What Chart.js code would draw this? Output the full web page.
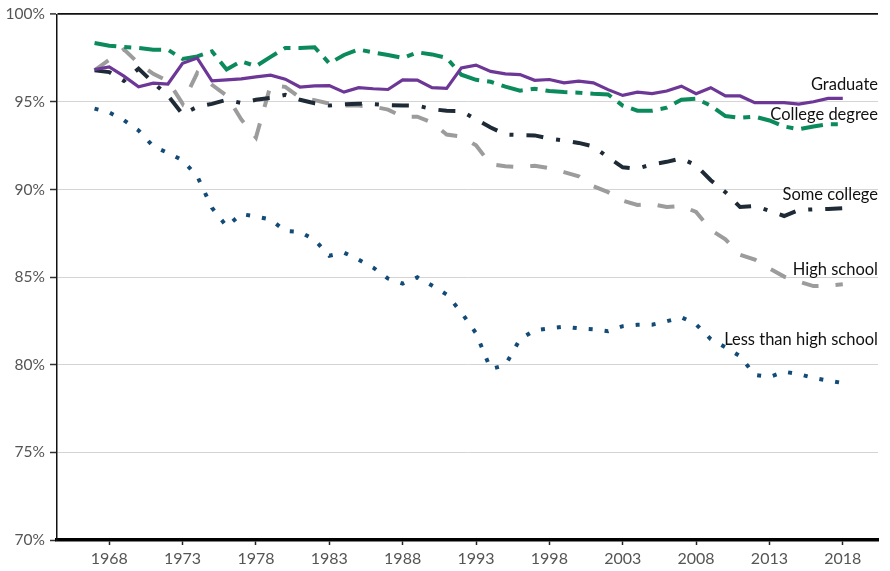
<!DOCTYPE html>
<html>
<head>
<meta charset="utf-8">
<script src="https://cdn.jsdelivr.net/npm/chart.js@4.4.1/dist/chart.umd.min.js"></script>
<style>
  html, body { margin: 0; padding: 0; background: #ffffff; }
  #wrap { width: 890px; height: 571px; }
</style>
</head>
<body>
<div id="wrap"><canvas id="c" width="890" height="571"></canvas></div>
<script>
const years = [1967,1968,1969,1970,1971,1972,1973,1974,1975,1976,1977,1978,1979,1980,1981,1982,1983,1984,1985,1986,1987,1988,1989,1990,1991,1992,1993,1994,1995,1996,1997,1998,1999,2000,2001,2002,2003,2004,2005,2006,2007,2008,2009,2010,2011,2012,2013,2014,2015,2016,2017,2018];

const graduate = [96.85,97.0,96.47,95.86,96.07,96.02,97.2,97.5,96.2,96.26,96.32,96.43,96.53,96.3,95.85,95.92,95.93,95.56,95.81,95.75,95.71,96.26,96.24,95.81,95.77,96.94,97.1,96.74,96.6,96.56,96.23,96.28,96.09,96.19,96.09,95.7,95.37,95.56,95.47,95.62,95.9,95.47,95.81,95.34,95.34,94.96,94.96,94.96,94.87,95.01,95.2,95.2];

const collegeDegree = [98.36,98.21,98.13,98.08,97.98,97.98,97.45,97.6,97.89,96.85,97.32,97.04,97.57,98.08,98.08,98.12,97.2,97.68,97.99,97.82,97.68,97.51,97.83,97.71,97.51,96.55,96.26,96.15,95.87,95.64,95.75,95.62,95.56,95.53,95.47,95.43,94.79,94.5,94.5,94.67,95.13,95.19,94.79,94.19,94.1,94.16,93.94,93.6,93.44,93.6,93.73,93.73];

const someCollege = [96.8,96.7,96.2,96.9,96.1,95.36,94.3,94.72,94.89,95.12,94.94,95.12,95.23,95.4,95.12,94.92,94.79,94.86,94.9,94.87,94.82,94.8,94.79,94.59,94.49,94.48,94.0,93.54,93.14,93.11,93.09,92.91,92.8,92.66,92.46,91.84,91.27,91.19,91.44,91.58,91.78,91.38,90.53,89.85,89.0,89.06,88.78,88.49,88.83,88.87,88.89,88.94];

const highSchool = [96.8,97.4,98.0,97.2,96.6,96.2,94.9,96.66,95.98,95.36,94.0,92.97,95.95,95.86,95.24,95.1,94.9,94.8,94.79,94.73,94.56,94.16,94.16,93.82,93.14,93.03,92.52,91.44,91.33,91.28,91.36,91.22,90.99,90.76,90.19,89.85,89.37,89.12,89.17,89.0,89.06,88.72,87.7,87.16,86.28,86.0,85.49,85.03,84.75,84.49,84.52,84.59];

const lessThanHighSchool = [94.62,94.4,93.96,93.37,92.46,92.09,91.67,90.76,88.96,87.9,88.6,88.46,88.29,87.64,87.58,87.13,86.22,86.4,86.0,85.54,84.92,84.63,84.99,84.52,84.01,82.99,81.8,79.76,79.98,81.46,81.97,82.08,82.17,82.08,82.02,81.91,82.2,82.28,82.29,82.48,82.71,82.31,81.46,81.0,80.49,79.42,79.3,79.6,79.47,79.25,79.1,78.96];

const seriesNames = ["Graduate","College degree","Some college","High school","Less than high school"];
const labelValues = [95.66, 93.98, 89.38, 85.13, 81.1];
const xTickYears = [1968,1973,1978,1983,1988,1993,1998,2003,2008,2013,2018];
const yTickValues = [70,75,80,85,90,95,100];

const pts = arr => arr.map((v,i)=>({x: years[i], y: v}));

const endLabels = {
  id: 'endLabels',
  afterDatasetsDraw(chart) {
    const {ctx, chartArea, scales} = chart;
    ctx.save();
    ctx.font = '16.5px Lato';
    ctx.fillStyle = '#111';
    ctx.textAlign = 'right';
    ctx.textBaseline = 'alphabetic';
    seriesNames.forEach((n,i)=>{
      ctx.fillText(n, chartArea.right, scales.y.getPixelForValue(labelValues[i]));
    });
    ctx.restore();
  }
};

new Chart(document.getElementById('c'), {
  type: 'line',
  data: {
    datasets: [
      {label: seriesNames[0], data: pts(graduate), borderColor: '#6c3796', borderWidth: 3.2, borderDash: []},
      {label: seriesNames[1], data: pts(collegeDegree), borderColor: '#0b8a5c', borderWidth: 4, borderDash: [22,8,7,8]},
      {label: seriesNames[2], data: pts(someCollege), borderColor: '#1e2b37', borderWidth: 4, borderDash: [17,13,4,13]},
      {label: seriesNames[3], data: pts(highSchool), borderColor: '#9c9c9c', borderWidth: 4, borderDash: [17,17]},
      {label: seriesNames[4], data: pts(lessThanHighSchool), borderColor: '#134b78', borderWidth: 4, borderDash: [4,12]}
    ]
  },
  options: {
    responsive: false,
    animation: false,
    events: [],
    elements: { point: { radius: 0 }, line: { tension: 0, borderCapStyle: 'butt', borderJoinStyle: 'miter' } },
    layout: { padding: { top: 11, right: 12, left: 0, bottom: 0 } },
    plugins: { legend: { display: false }, tooltip: { enabled: false } },
    scales: {
      x: {
        type: 'linear',
        min: 1964.44,
        max: 2020.4,
        afterBuildTicks: s => { s.ticks = xTickYears.map(v=>({value:v})); },
        afterFit: s => { s.height = 31; },
        border: { color: '#000', width: 3.5 },
        grid: { drawOnChartArea: false, drawTicks: true, tickLength: 5, tickColor: '#222', tickWidth: 1.5 },
        ticks: { padding: 4, color: '#555', font: { family: 'Lato', size: 16 }, maxRotation: 0, autoSkip: false, callback: v => String(v) }
      },
      y: {
        type: 'linear',
        min: 70,
        max: 100,
        afterBuildTicks: s => { s.ticks = yTickValues.map(v=>({value:v})); },
        afterFit: s => { s.width = 57; },
        border: { color: '#111', width: 1.5 },
        grid: {
          color: ctx => ctx.tick && ctx.tick.value === 100 ? '#111' : '#d4d4d4',
          lineWidth: ctx => ctx.tick && ctx.tick.value === 100 ? 1.8 : 1,
          tickLength: 7, tickColor: '#333', tickWidth: 1.5
        },
        ticks: { padding: 5, color: '#555', font: { family: 'Lato', size: 15.5 }, callback: v => v + '%' }
      }
    }
  },
  plugins: [endLabels]
});
</script>
</body>
</html>
